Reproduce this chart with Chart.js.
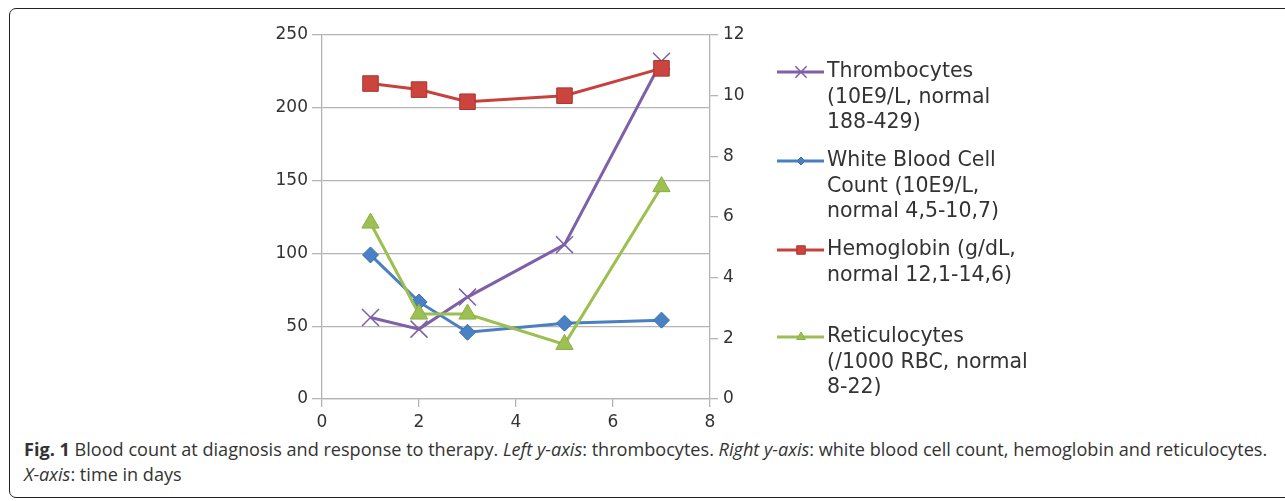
<!DOCTYPE html>
<html>
<head>
<meta charset="utf-8">
<script src="https://cdn.jsdelivr.net/npm/chart.js@4.4.0/dist/chart.umd.min.js"></script>
<style>
  html, body { margin: 0; padding: 0; background: #fff; }
  #wrap { position: relative; width: 1285px; height: 501px; overflow: hidden; }
  #box {
    position: absolute; left: 9px; top: 8px; width: 1300px; height: 490px;
    border: 1.5px solid #222; border-radius: 7px; box-sizing: border-box;
  }
  #chart { position: absolute; left: 0; top: 0; }
  #caption {
    position: absolute; left: 24px; top: 437px; width: 1258px;
    font-family: "Open Sans", sans-serif; font-size: 18.1px; line-height: 25px; color: #333;
    white-space: nowrap;
  }
</style>
</head>
<body>
<div id="wrap">
  <div id="box"></div>
  <canvas id="chart" width="1285" height="430"></canvas>
  <div id="caption"><b>Fig. 1</b> Blood count at diagnosis and response to therapy. <i>Left y-axis</i>: thrombocytes. <i>Right y-axis</i>: white blood cell count, hemoglobin and reticulocytes.<br><i>X-axis</i>: time in days</div>
</div>
<script>
// days after diagnosis
const days = [1, 2, 3, 5, 7];

// left axis
const thrombocytes = [56, 48, 70, 106, 232];
// right axis
const wbc = [4.75, 3.2, 2.2, 2.5, 2.6];
const hemoglobin = [10.4, 10.2, 9.8, 10.0, 10.9];
const reticulocytes = [5.8, 2.8, 2.8, 1.8, 7.0];

const xTicks = [0, 2, 4, 6, 8];
const leftTicks = [0, 50, 100, 150, 200, 250];
const rightTicks = [0, 2, 4, 6, 8, 10, 12];

const legendLines = [
  ['Thrombocytes', '(10E9/L, normal', '188-429)'],
  ['White Blood Cell', 'Count (10E9/L,', 'normal 4,5-10,7)'],
  ['Hemoglobin (g/dL,', 'normal 12,1-14,6)'],
  ['Reticulocytes', '(/1000 RBC, normal', '8-22)'],
];

const toPoints = vals => vals.map((v, i) => ({ x: days[i], y: v }));

const gridColor = '#b4b4b4';
const tickFont = { family: 'DejaVu Sans', size: 17 };

// draws the multi-line legend on the right
const sideLegend = {
  id: 'sideLegend',
  afterDraw(chart) {
    const ctx = chart.ctx;
    const slotTop = [72, 161, 250, 337];
    chart.data.datasets.forEach((ds, i) => {
      const y = slotTop[i];
      ctx.save();
      ctx.strokeStyle = ds.borderColor;
      ctx.lineWidth = 3;
      ctx.beginPath();
      ctx.moveTo(777, y);
      ctx.lineTo(824, y);
      ctx.stroke();
      ctx.restore();

      ctx.save();
      ctx.fillStyle = ds.pointBackgroundColor;
      ctx.strokeStyle = ds.pointBorderColor;
      ctx.lineWidth = ds.pointBorderWidth;
      Chart.helpers.drawPoint(ctx, {
        pointStyle: ds.pointStyle,
        radius: ds.legendRadius,
        borderWidth: ds.pointBorderWidth,
        rotation: 0,
      }, 801, y);
      ctx.restore();

      ctx.save();
      ctx.fillStyle = '#333';
      ctx.font = '20.5px "DejaVu Sans"';
      ctx.textBaseline = 'middle';
      legendLines[i].forEach((t, k) => ctx.fillText(t, 827, y + k * 25.5));
      ctx.restore();
    });
  }
};

new Chart(document.getElementById('chart'), {
  type: 'line',
  data: {
    datasets: [
      {
        label: legendLines[0].join(' '),
        data: toPoints(thrombocytes),
        yAxisID: 'y',
        borderColor: '#7e60a8',
        borderWidth: 3,
        pointStyle: 'crossRot',
        pointRadius: 12,
        legendRadius: 8,
        pointBorderColor: '#7e60a8',
        pointBackgroundColor: '#7e60a8',
        pointBorderWidth: 1.5,
        order: 4,
      },
      {
        label: legendLines[1].join(' '),
        data: toPoints(wbc),
        yAxisID: 'y1',
        borderColor: '#4a7fc1',
        borderWidth: 3,
        pointStyle: 'rectRot',
        pointRadius: 8,
        legendRadius: 4,
        pointBorderColor: '#3b6fb3',
        pointBackgroundColor: '#4a80c4',
        pointBorderWidth: 1,
        order: 3,
      },
      {
        label: legendLines[2].join(' '),
        data: toPoints(hemoglobin),
        yAxisID: 'y1',
        borderColor: '#c8423d',
        borderWidth: 3,
        pointStyle: 'rect',
        pointRadius: 11,
        legendRadius: 6,
        pointBorderColor: '#a83530',
        pointBackgroundColor: '#cc443e',
        pointBorderWidth: 1,
        order: 2,
      },
      {
        label: legendLines[3].join(' '),
        data: toPoints(reticulocytes),
        yAxisID: 'y1',
        borderColor: '#9bc04f',
        borderWidth: 3,
        pointStyle: 'triangle',
        pointRadius: 10,
        legendRadius: 5,
        pointBorderColor: '#8aae45',
        pointBackgroundColor: '#9cc152',
        pointBorderWidth: 1,
        order: 1,
      },
    ]
  },
  options: {
    responsive: false,
    animation: false,
    layout: { padding: { left: 262, right: 525, top: 35, bottom: 0 } },
    plugins: {
      legend: { display: false },
      tooltip: { enabled: false }
    },
    scales: {
      x: {
        type: 'linear',
        min: 0,
        max: 8,
        afterFit: s => { s.height = 31; },
        afterBuildTicks: s => { s.ticks = xTicks.map(v => ({ value: v })); },
        grid: { drawOnChartArea: false, color: gridColor, lineWidth: 1.3, tickLength: 8 },
        border: { color: gridColor, width: 1.3 },
        ticks: { font: tickFont, color: '#333', padding: 5, maxRotation: 0 }
      },
      y: {
        position: 'left',
        min: 0,
        max: 250,
        afterFit: s => { s.width = 60; },
        afterBuildTicks: s => { s.ticks = leftTicks.map(v => ({ value: v })); },
        grid: { color: gridColor, lineWidth: 1.3, tickLength: 10 },
        border: { color: gridColor, width: 1.3 },
        ticks: { font: tickFont, color: '#333', padding: 4 }
      },
      y1: {
        position: 'right',
        min: 0,
        max: 12,
        afterFit: s => { s.width = 50; },
        afterBuildTicks: s => { s.ticks = rightTicks.map(v => ({ value: v })); },
        grid: { drawOnChartArea: false, color: gridColor, lineWidth: 1.3, tickLength: 8 },
        border: { color: gridColor, width: 1.3 },
        ticks: { font: tickFont, color: '#333', padding: 5 }
      }
    }
  },
  plugins: [sideLegend]
});
</script>
</body>
</html>
